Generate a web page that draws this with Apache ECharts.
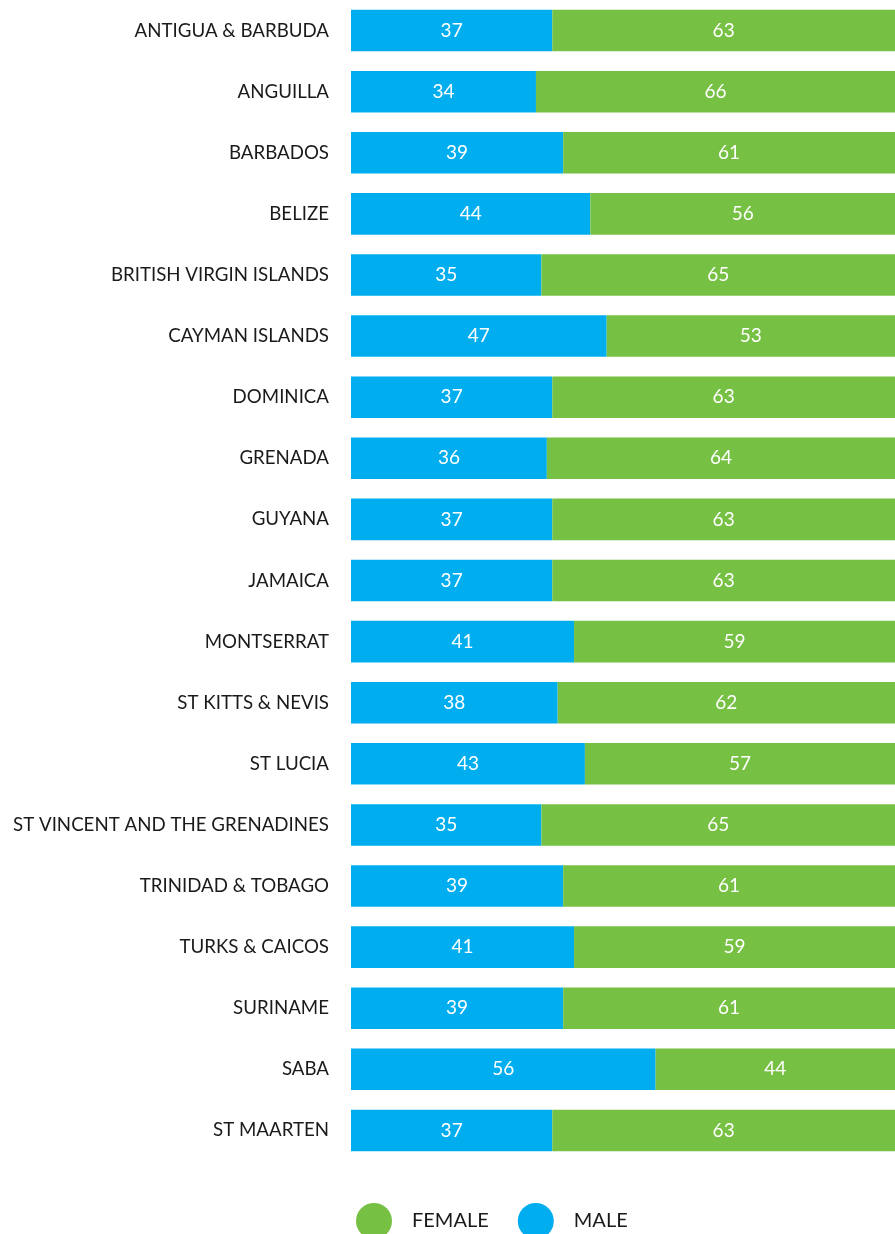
<!DOCTYPE html>
<html>
<head>
<meta charset="utf-8">
<script src="https://cdn.jsdelivr.net/npm/echarts@6/dist/echarts.min.js"></script>
<style>
  html, body { margin: 0; padding: 0; background: #ffffff; }
  #chart { width: 895px; height: 1234px; }
</style>
</head>
<body>
<div id="chart"></div>
<script>
// Share of male and female (%) by country / territory
const countries = [
  'ANTIGUA & BARBUDA', 'ANGUILLA', 'BARBADOS', 'BELIZE', 'BRITISH VIRGIN ISLANDS',
  'CAYMAN ISLANDS', 'DOMINICA', 'GRENADA', 'GUYANA', 'JAMAICA', 'MONTSERRAT',
  'ST KITTS & NEVIS', 'ST LUCIA', 'ST VINCENT AND THE GRENADINES', 'TRINIDAD & TOBAGO',
  'TURKS & CAICOS', 'SURINAME', 'SABA', 'ST MAARTEN'
];
const male   = [37, 34, 39, 44, 35, 47, 37, 36, 37, 37, 41, 38, 43, 35, 39, 41, 39, 56, 37];
const female = [63, 66, 61, 56, 65, 53, 63, 64, 63, 63, 59, 62, 57, 65, 61, 59, 61, 44, 63];

const BLUE = '#00aeef';
const GREEN = '#76c043';
const FONT = 'Lato, "Noto Sans", sans-serif';

const chart = echarts.init(document.getElementById('chart'), null, { renderer: 'canvas' });

const barLabel = {
  show: true,
  position: 'inside',
  color: '#ffffff',
  fontFamily: FONT,
  fontSize: 19
};

chart.setOption({
  animation: false,
  backgroundColor: '#ffffff',
  grid: { left: 351, right: 0, top: 0, height: 1161 },
  xAxis: {
    type: 'value',
    min: 0,
    max: 100,
    show: false
  },
  yAxis: {
    type: 'category',
    inverse: true,
    data: countries,
    axisLine: { show: false },
    axisTick: { show: false },
    splitLine: { show: false },
    axisLabel: {
      color: '#1a1a1a',
      fontFamily: FONT,
      fontSize: 18.7,
      margin: 22,
      padding: [5, 0, 0, 0]
    }
  },
  legend: {
    data: ['FEMALE', 'MALE'],
    left: 356,
    top: 1203,
    padding: 0,
    icon: 'circle',
    itemWidth: 36,
    itemHeight: 36,
    itemGap: 29,
    textStyle: {
      color: '#1a1a1a',
      fontFamily: FONT,
      fontSize: 20,
      padding: [0, 0, 0, 15]
    }
  },
  series: [
    {
      name: 'MALE',
      type: 'bar',
      stack: 'total',
      barCategoryGap: '32%',
      itemStyle: { color: BLUE },
      label: barLabel,
      data: male
    },
    {
      name: 'FEMALE',
      type: 'bar',
      stack: 'total',
      barCategoryGap: '32%',
      itemStyle: { color: GREEN },
      label: barLabel,
      data: female
    }
  ]
});
</script>
</body>
</html>
